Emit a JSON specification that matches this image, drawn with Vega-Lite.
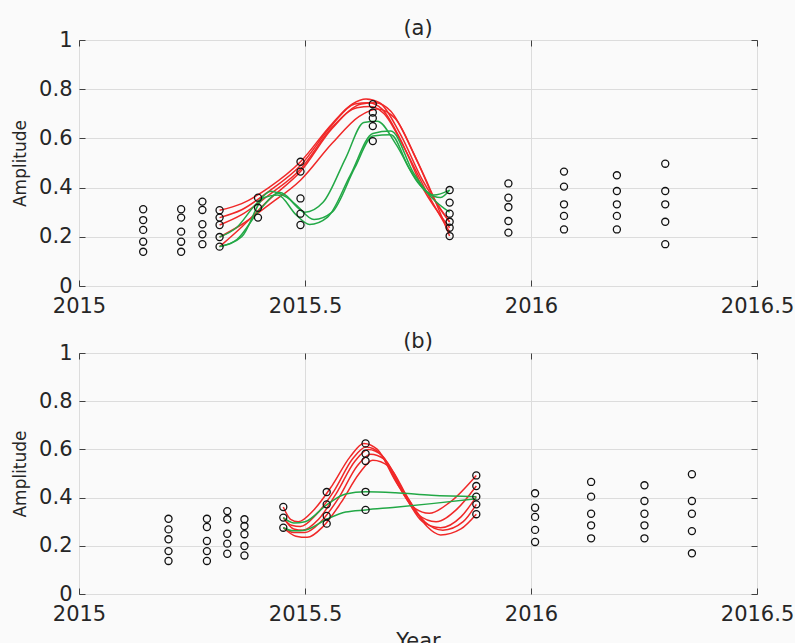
{
  "$schema": "https://vega.github.io/schema/vega-lite/v6.json",
  "background": "#fafafa",
  "padding": {"left": 11, "top": 17, "right": 0, "bottom": 0},
  "bounds": "flush",
  "spacing": 67,
  "config": {
    "font": "DejaVu Sans",
    "view": {"stroke": "#404040", "strokeWidth": 1},
    "axis": {
      "labelFont": "DejaVu Sans", "labelFontSize": 21, "labelColor": "#262626",
      "titleFont": "DejaVu Sans", "titleFontSize": 17, "titleFontWeight": "normal", "titleColor": "#262626",
      "gridColor": "#dcdcdc", "gridWidth": 1, "tickColor": "#404040", "tickSize": -6, "tickWidth": 1,
      "domain": false, "labelOverlap": false, "labelFlush": false
    },
    "title": {"font": "DejaVu Sans", "fontSize": 21, "fontWeight": "normal", "color": "#262626", "anchor": "middle"}
  },
  "datasets": {
    "pointsA": [
      {"year": 2015.142, "amp": 0.312}, {"year": 2015.142, "amp": 0.268}, {"year": 2015.142, "amp": 0.228}, {"year": 2015.142, "amp": 0.180}, {"year": 2015.142, "amp": 0.139},
      {"year": 2015.226, "amp": 0.312}, {"year": 2015.226, "amp": 0.278}, {"year": 2015.226, "amp": 0.221}, {"year": 2015.226, "amp": 0.180}, {"year": 2015.226, "amp": 0.139},
      {"year": 2015.273, "amp": 0.343}, {"year": 2015.273, "amp": 0.309}, {"year": 2015.273, "amp": 0.251}, {"year": 2015.273, "amp": 0.210}, {"year": 2015.273, "amp": 0.170},
      {"year": 2015.311, "amp": 0.308}, {"year": 2015.311, "amp": 0.278}, {"year": 2015.311, "amp": 0.248}, {"year": 2015.311, "amp": 0.199}, {"year": 2015.311, "amp": 0.160},
      {"year": 2015.396, "amp": 0.359}, {"year": 2015.396, "amp": 0.318}, {"year": 2015.396, "amp": 0.278},
      {"year": 2015.490, "amp": 0.505}, {"year": 2015.490, "amp": 0.465}, {"year": 2015.490, "amp": 0.356}, {"year": 2015.490, "amp": 0.294}, {"year": 2015.490, "amp": 0.248},
      {"year": 2015.650, "amp": 0.739}, {"year": 2015.650, "amp": 0.705}, {"year": 2015.650, "amp": 0.682}, {"year": 2015.650, "amp": 0.650}, {"year": 2015.650, "amp": 0.589},
      {"year": 2015.820, "amp": 0.390}, {"year": 2015.820, "amp": 0.339}, {"year": 2015.820, "amp": 0.294}, {"year": 2015.820, "amp": 0.261}, {"year": 2015.820, "amp": 0.237}, {"year": 2015.820, "amp": 0.203},
      {"year": 2015.950, "amp": 0.417}, {"year": 2015.950, "amp": 0.359}, {"year": 2015.950, "amp": 0.321}, {"year": 2015.950, "amp": 0.264}, {"year": 2015.950, "amp": 0.217},
      {"year": 2016.073, "amp": 0.465}, {"year": 2016.073, "amp": 0.404}, {"year": 2016.073, "amp": 0.332}, {"year": 2016.073, "amp": 0.285}, {"year": 2016.073, "amp": 0.230},
      {"year": 2016.190, "amp": 0.450}, {"year": 2016.190, "amp": 0.386}, {"year": 2016.190, "amp": 0.332}, {"year": 2016.190, "amp": 0.285}, {"year": 2016.190, "amp": 0.230},
      {"year": 2016.297, "amp": 0.497}, {"year": 2016.297, "amp": 0.386}, {"year": 2016.297, "amp": 0.332}, {"year": 2016.297, "amp": 0.261}, {"year": 2016.297, "amp": 0.170}
    ],
    "pointsB": [
      {"year": 2015.198, "amp": 0.312}, {"year": 2015.198, "amp": 0.268}, {"year": 2015.198, "amp": 0.227}, {"year": 2015.198, "amp": 0.178}, {"year": 2015.198, "amp": 0.137},
      {"year": 2015.283, "amp": 0.312}, {"year": 2015.283, "amp": 0.278}, {"year": 2015.283, "amp": 0.220}, {"year": 2015.283, "amp": 0.178}, {"year": 2015.283, "amp": 0.137},
      {"year": 2015.328, "amp": 0.344}, {"year": 2015.328, "amp": 0.310}, {"year": 2015.328, "amp": 0.250}, {"year": 2015.328, "amp": 0.209}, {"year": 2015.328, "amp": 0.167},
      {"year": 2015.366, "amp": 0.310}, {"year": 2015.366, "amp": 0.282}, {"year": 2015.366, "amp": 0.248}, {"year": 2015.366, "amp": 0.199}, {"year": 2015.366, "amp": 0.160},
      {"year": 2015.452, "amp": 0.361}, {"year": 2015.452, "amp": 0.317}, {"year": 2015.452, "amp": 0.275},
      {"year": 2015.548, "amp": 0.423}, {"year": 2015.548, "amp": 0.372}, {"year": 2015.548, "amp": 0.324}, {"year": 2015.548, "amp": 0.292},
      {"year": 2015.634, "amp": 0.625}, {"year": 2015.634, "amp": 0.582}, {"year": 2015.634, "amp": 0.552}, {"year": 2015.634, "amp": 0.424}, {"year": 2015.634, "amp": 0.349},
      {"year": 2015.879, "amp": 0.492}, {"year": 2015.879, "amp": 0.448}, {"year": 2015.879, "amp": 0.404}, {"year": 2015.879, "amp": 0.372}, {"year": 2015.879, "amp": 0.331},
      {"year": 2016.009, "amp": 0.418}, {"year": 2016.009, "amp": 0.358}, {"year": 2016.009, "amp": 0.320}, {"year": 2016.009, "amp": 0.266}, {"year": 2016.009, "amp": 0.216},
      {"year": 2016.133, "amp": 0.465}, {"year": 2016.133, "amp": 0.404}, {"year": 2016.133, "amp": 0.333}, {"year": 2016.133, "amp": 0.285}, {"year": 2016.133, "amp": 0.231},
      {"year": 2016.251, "amp": 0.451}, {"year": 2016.251, "amp": 0.386}, {"year": 2016.251, "amp": 0.333}, {"year": 2016.251, "amp": 0.285}, {"year": 2016.251, "amp": 0.231},
      {"year": 2016.356, "amp": 0.497}, {"year": 2016.356, "amp": 0.386}, {"year": 2016.356, "amp": 0.333}, {"year": 2016.356, "amp": 0.261}, {"year": 2016.356, "amp": 0.169}
    ],
    "curvesA": [
      {"id": "R1", "fit": "red", "year": 2015.311, "amp": 0.308}, {"id": "R1", "fit": "red", "year": 2015.36, "amp": 0.335}, {"id": "R1", "fit": "red", "year": 2015.42, "amp": 0.40}, {"id": "R1", "fit": "red", "year": 2015.49, "amp": 0.505}, {"id": "R1", "fit": "red", "year": 2015.56, "amp": 0.66}, {"id": "R1", "fit": "red", "year": 2015.605, "amp": 0.74}, {"id": "R1", "fit": "red", "year": 2015.635, "amp": 0.76}, {"id": "R1", "fit": "red", "year": 2015.665, "amp": 0.745}, {"id": "R1", "fit": "red", "year": 2015.71, "amp": 0.62}, {"id": "R1", "fit": "red", "year": 2015.76, "amp": 0.43}, {"id": "R1", "fit": "red", "year": 2015.82, "amp": 0.26},
      {"id": "R2", "fit": "red", "year": 2015.311, "amp": 0.278}, {"id": "R2", "fit": "red", "year": 2015.36, "amp": 0.31}, {"id": "R2", "fit": "red", "year": 2015.42, "amp": 0.385}, {"id": "R2", "fit": "red", "year": 2015.49, "amp": 0.49}, {"id": "R2", "fit": "red", "year": 2015.56, "amp": 0.655}, {"id": "R2", "fit": "red", "year": 2015.61, "amp": 0.74}, {"id": "R2", "fit": "red", "year": 2015.64, "amp": 0.745}, {"id": "R2", "fit": "red", "year": 2015.67, "amp": 0.72}, {"id": "R2", "fit": "red", "year": 2015.71, "amp": 0.60}, {"id": "R2", "fit": "red", "year": 2015.76, "amp": 0.40}, {"id": "R2", "fit": "red", "year": 2015.82, "amp": 0.237},
      {"id": "R3", "fit": "red", "year": 2015.311, "amp": 0.248}, {"id": "R3", "fit": "red", "year": 2015.36, "amp": 0.29}, {"id": "R3", "fit": "red", "year": 2015.42, "amp": 0.37}, {"id": "R3", "fit": "red", "year": 2015.49, "amp": 0.475}, {"id": "R3", "fit": "red", "year": 2015.56, "amp": 0.645}, {"id": "R3", "fit": "red", "year": 2015.615, "amp": 0.725}, {"id": "R3", "fit": "red", "year": 2015.645, "amp": 0.73}, {"id": "R3", "fit": "red", "year": 2015.675, "amp": 0.70}, {"id": "R3", "fit": "red", "year": 2015.72, "amp": 0.56}, {"id": "R3", "fit": "red", "year": 2015.77, "amp": 0.38}, {"id": "R3", "fit": "red", "year": 2015.82, "amp": 0.22},
      {"id": "R4", "fit": "red", "year": 2015.311, "amp": 0.16}, {"id": "R4", "fit": "red", "year": 2015.36, "amp": 0.24}, {"id": "R4", "fit": "red", "year": 2015.42, "amp": 0.35}, {"id": "R4", "fit": "red", "year": 2015.49, "amp": 0.465}, {"id": "R4", "fit": "red", "year": 2015.56, "amp": 0.64}, {"id": "R4", "fit": "red", "year": 2015.625, "amp": 0.74}, {"id": "R4", "fit": "red", "year": 2015.655, "amp": 0.745}, {"id": "R4", "fit": "red", "year": 2015.69, "amp": 0.71}, {"id": "R4", "fit": "red", "year": 2015.74, "amp": 0.54}, {"id": "R4", "fit": "red", "year": 2015.78, "amp": 0.38}, {"id": "R4", "fit": "red", "year": 2015.82, "amp": 0.203},
      {"id": "R5", "fit": "red", "year": 2015.311, "amp": 0.199}, {"id": "R5", "fit": "red", "year": 2015.36, "amp": 0.25}, {"id": "R5", "fit": "red", "year": 2015.42, "amp": 0.33}, {"id": "R5", "fit": "red", "year": 2015.49, "amp": 0.43}, {"id": "R5", "fit": "red", "year": 2015.56, "amp": 0.58}, {"id": "R5", "fit": "red", "year": 2015.62, "amp": 0.69}, {"id": "R5", "fit": "red", "year": 2015.66, "amp": 0.72}, {"id": "R5", "fit": "red", "year": 2015.70, "amp": 0.68}, {"id": "R5", "fit": "red", "year": 2015.75, "amp": 0.50}, {"id": "R5", "fit": "red", "year": 2015.79, "amp": 0.34}, {"id": "R5", "fit": "red", "year": 2015.82, "amp": 0.26},
      {"id": "G1", "fit": "green", "year": 2015.311, "amp": 0.199}, {"id": "G1", "fit": "green", "year": 2015.35, "amp": 0.24}, {"id": "G1", "fit": "green", "year": 2015.39, "amp": 0.33}, {"id": "G1", "fit": "green", "year": 2015.425, "amp": 0.385}, {"id": "G1", "fit": "green", "year": 2015.46, "amp": 0.36}, {"id": "G1", "fit": "green", "year": 2015.50, "amp": 0.30}, {"id": "G1", "fit": "green", "year": 2015.54, "amp": 0.34}, {"id": "G1", "fit": "green", "year": 2015.59, "amp": 0.52}, {"id": "G1", "fit": "green", "year": 2015.63, "amp": 0.665}, {"id": "G1", "fit": "green", "year": 2015.66, "amp": 0.67}, {"id": "G1", "fit": "green", "year": 2015.70, "amp": 0.58}, {"id": "G1", "fit": "green", "year": 2015.75, "amp": 0.42}, {"id": "G1", "fit": "green", "year": 2015.785, "amp": 0.37}, {"id": "G1", "fit": "green", "year": 2015.82, "amp": 0.39},
      {"id": "G2", "fit": "green", "year": 2015.311, "amp": 0.16}, {"id": "G2", "fit": "green", "year": 2015.35, "amp": 0.19}, {"id": "G2", "fit": "green", "year": 2015.40, "amp": 0.31}, {"id": "G2", "fit": "green", "year": 2015.445, "amp": 0.38}, {"id": "G2", "fit": "green", "year": 2015.48, "amp": 0.33}, {"id": "G2", "fit": "green", "year": 2015.52, "amp": 0.27}, {"id": "G2", "fit": "green", "year": 2015.56, "amp": 0.30}, {"id": "G2", "fit": "green", "year": 2015.61, "amp": 0.48}, {"id": "G2", "fit": "green", "year": 2015.65, "amp": 0.61}, {"id": "G2", "fit": "green", "year": 2015.69, "amp": 0.615}, {"id": "G2", "fit": "green", "year": 2015.73, "amp": 0.48}, {"id": "G2", "fit": "green", "year": 2015.77, "amp": 0.38}, {"id": "G2", "fit": "green", "year": 2015.80, "amp": 0.36}, {"id": "G2", "fit": "green", "year": 2015.82, "amp": 0.39},
      {"id": "G3", "fit": "green", "year": 2015.311, "amp": 0.16}, {"id": "G3", "fit": "green", "year": 2015.36, "amp": 0.20}, {"id": "G3", "fit": "green", "year": 2015.41, "amp": 0.36}, {"id": "G3", "fit": "green", "year": 2015.44, "amp": 0.37}, {"id": "G3", "fit": "green", "year": 2015.48, "amp": 0.29}, {"id": "G3", "fit": "green", "year": 2015.51, "amp": 0.25}, {"id": "G3", "fit": "green", "year": 2015.55, "amp": 0.28}, {"id": "G3", "fit": "green", "year": 2015.60, "amp": 0.45}, {"id": "G3", "fit": "green", "year": 2015.65, "amp": 0.62}, {"id": "G3", "fit": "green", "year": 2015.69, "amp": 0.63}, {"id": "G3", "fit": "green", "year": 2015.74, "amp": 0.46}, {"id": "G3", "fit": "green", "year": 2015.78, "amp": 0.36}, {"id": "G3", "fit": "green", "year": 2015.82, "amp": 0.30}
    ],
    "curvesB": [
      {"id": "R1", "fit": "red", "year": 2015.452, "amp": 0.361}, {"id": "R1", "fit": "red", "year": 2015.468, "amp": 0.31}, {"id": "R1", "fit": "red", "year": 2015.485, "amp": 0.30}, {"id": "R1", "fit": "red", "year": 2015.52, "amp": 0.35}, {"id": "R1", "fit": "red", "year": 2015.56, "amp": 0.45}, {"id": "R1", "fit": "red", "year": 2015.60, "amp": 0.57}, {"id": "R1", "fit": "red", "year": 2015.63, "amp": 0.625}, {"id": "R1", "fit": "red", "year": 2015.66, "amp": 0.60}, {"id": "R1", "fit": "red", "year": 2015.70, "amp": 0.47}, {"id": "R1", "fit": "red", "year": 2015.74, "amp": 0.36}, {"id": "R1", "fit": "red", "year": 2015.775, "amp": 0.335}, {"id": "R1", "fit": "red", "year": 2015.82, "amp": 0.38}, {"id": "R1", "fit": "red", "year": 2015.879, "amp": 0.492},
      {"id": "R2", "fit": "red", "year": 2015.452, "amp": 0.317}, {"id": "R2", "fit": "red", "year": 2015.47, "amp": 0.285}, {"id": "R2", "fit": "red", "year": 2015.49, "amp": 0.28}, {"id": "R2", "fit": "red", "year": 2015.525, "amp": 0.33}, {"id": "R2", "fit": "red", "year": 2015.565, "amp": 0.43}, {"id": "R2", "fit": "red", "year": 2015.605, "amp": 0.56}, {"id": "R2", "fit": "red", "year": 2015.635, "amp": 0.61}, {"id": "R2", "fit": "red", "year": 2015.665, "amp": 0.585}, {"id": "R2", "fit": "red", "year": 2015.71, "amp": 0.44}, {"id": "R2", "fit": "red", "year": 2015.75, "amp": 0.33}, {"id": "R2", "fit": "red", "year": 2015.79, "amp": 0.30}, {"id": "R2", "fit": "red", "year": 2015.835, "amp": 0.35}, {"id": "R2", "fit": "red", "year": 2015.879, "amp": 0.448},
      {"id": "R3", "fit": "red", "year": 2015.452, "amp": 0.317}, {"id": "R3", "fit": "red", "year": 2015.475, "amp": 0.27}, {"id": "R3", "fit": "red", "year": 2015.495, "amp": 0.265}, {"id": "R3", "fit": "red", "year": 2015.53, "amp": 0.31}, {"id": "R3", "fit": "red", "year": 2015.57, "amp": 0.42}, {"id": "R3", "fit": "red", "year": 2015.61, "amp": 0.55}, {"id": "R3", "fit": "red", "year": 2015.64, "amp": 0.60}, {"id": "R3", "fit": "red", "year": 2015.67, "amp": 0.575}, {"id": "R3", "fit": "red", "year": 2015.715, "amp": 0.43}, {"id": "R3", "fit": "red", "year": 2015.76, "amp": 0.30}, {"id": "R3", "fit": "red", "year": 2015.80, "amp": 0.275}, {"id": "R3", "fit": "red", "year": 2015.845, "amp": 0.32}, {"id": "R3", "fit": "red", "year": 2015.879, "amp": 0.404},
      {"id": "R4", "fit": "red", "year": 2015.452, "amp": 0.275}, {"id": "R4", "fit": "red", "year": 2015.475, "amp": 0.255}, {"id": "R4", "fit": "red", "year": 2015.50, "amp": 0.255}, {"id": "R4", "fit": "red", "year": 2015.535, "amp": 0.30}, {"id": "R4", "fit": "red", "year": 2015.575, "amp": 0.40}, {"id": "R4", "fit": "red", "year": 2015.615, "amp": 0.53}, {"id": "R4", "fit": "red", "year": 2015.645, "amp": 0.58}, {"id": "R4", "fit": "red", "year": 2015.675, "amp": 0.56}, {"id": "R4", "fit": "red", "year": 2015.72, "amp": 0.42}, {"id": "R4", "fit": "red", "year": 2015.765, "amp": 0.30}, {"id": "R4", "fit": "red", "year": 2015.805, "amp": 0.265}, {"id": "R4", "fit": "red", "year": 2015.85, "amp": 0.30}, {"id": "R4", "fit": "red", "year": 2015.879, "amp": 0.372},
      {"id": "R5", "fit": "red", "year": 2015.452, "amp": 0.275}, {"id": "R5", "fit": "red", "year": 2015.48, "amp": 0.24}, {"id": "R5", "fit": "red", "year": 2015.505, "amp": 0.235}, {"id": "R5", "fit": "red", "year": 2015.54, "amp": 0.28}, {"id": "R5", "fit": "red", "year": 2015.58, "amp": 0.38}, {"id": "R5", "fit": "red", "year": 2015.62, "amp": 0.50}, {"id": "R5", "fit": "red", "year": 2015.65, "amp": 0.555}, {"id": "R5", "fit": "red", "year": 2015.685, "amp": 0.53}, {"id": "R5", "fit": "red", "year": 2015.73, "amp": 0.39}, {"id": "R5", "fit": "red", "year": 2015.77, "amp": 0.28}, {"id": "R5", "fit": "red", "year": 2015.80, "amp": 0.245}, {"id": "R5", "fit": "red", "year": 2015.845, "amp": 0.27}, {"id": "R5", "fit": "red", "year": 2015.879, "amp": 0.331},
      {"id": "G1", "fit": "green", "year": 2015.452, "amp": 0.317}, {"id": "G1", "fit": "green", "year": 2015.475, "amp": 0.295}, {"id": "G1", "fit": "green", "year": 2015.50, "amp": 0.30}, {"id": "G1", "fit": "green", "year": 2015.548, "amp": 0.37}, {"id": "G1", "fit": "green", "year": 2015.59, "amp": 0.415}, {"id": "G1", "fit": "green", "year": 2015.634, "amp": 0.424}, {"id": "G1", "fit": "green", "year": 2015.70, "amp": 0.42}, {"id": "G1", "fit": "green", "year": 2015.78, "amp": 0.41}, {"id": "G1", "fit": "green", "year": 2015.879, "amp": 0.404},
      {"id": "G2", "fit": "green", "year": 2015.452, "amp": 0.275}, {"id": "G2", "fit": "green", "year": 2015.475, "amp": 0.262}, {"id": "G2", "fit": "green", "year": 2015.50, "amp": 0.265}, {"id": "G2", "fit": "green", "year": 2015.548, "amp": 0.31}, {"id": "G2", "fit": "green", "year": 2015.59, "amp": 0.34}, {"id": "G2", "fit": "green", "year": 2015.634, "amp": 0.349}, {"id": "G2", "fit": "green", "year": 2015.70, "amp": 0.36}, {"id": "G2", "fit": "green", "year": 2015.78, "amp": 0.375}, {"id": "G2", "fit": "green", "year": 2015.879, "amp": 0.395}
    ]
  },
  "vconcat": [
    {
      "width": 678, "height": 246,
      "title": {"text": "(a)", "offset": -10},
      "layer": [
        {
          "data": {"name": "curvesA"},
          "mark": {"type": "line", "interpolate": "monotone", "strokeWidth": 1.5},
          "encoding": {
            "x": {"field": "year", "type": "quantitative", "scale": {"domain": [2015, 2016.5], "nice": false, "zero": false},
                  "axis": {"orient": "bottom", "values": [2015, 2015.5, 2016, 2016.5], "format": "~g", "title": null, "labelPadding": 15}},
            "y": {"field": "amp", "type": "quantitative", "scale": {"domain": [0, 1], "nice": false},
                  "axis": {"orient": "left", "values": [0, 0.2, 0.4, 0.6, 0.8, 1], "format": "~g", "title": "Amplitude", "labelPadding": 13, "titlePadding": 9}},
            "color": {"field": "fit", "type": "nominal", "scale": {"domain": ["red", "green"], "range": ["#f02828", "#22a846"]}, "legend": null},
            "detail": {"field": "id", "type": "nominal"}
          }
        },
        {
          "data": {"name": "pointsA"},
          "mark": {"type": "point", "shape": "circle", "filled": false, "color": "#111111", "size": 50, "strokeWidth": 1.3, "opacity": 1},
          "encoding": {
            "x": {"field": "year", "type": "quantitative", "scale": {"domain": [2015, 2016.5], "nice": false, "zero": false},
                  "axis": {"orient": "top", "values": [2015, 2015.5, 2016, 2016.5], "labels": false, "grid": false, "title": null}},
            "y": {"field": "amp", "type": "quantitative", "scale": {"domain": [0, 1], "nice": false},
                  "axis": {"orient": "right", "values": [0, 0.2, 0.4, 0.6, 0.8, 1], "labels": false, "grid": false, "title": null}}
          }
        }
      ],
      "resolve": {"axis": {"x": "independent", "y": "independent"}}
    },
    {
      "width": 678, "height": 241,
      "title": {"text": "(b)", "offset": -10},
      "layer": [
        {
          "data": {"name": "curvesB"},
          "mark": {"type": "line", "interpolate": "monotone", "strokeWidth": 1.5},
          "encoding": {
            "x": {"field": "year", "type": "quantitative", "scale": {"domain": [2015, 2016.5], "nice": false, "zero": false},
                  "axis": {"orient": "bottom", "values": [2015, 2015.5, 2016, 2016.5], "format": "~g", "title": "Year", "titleFontSize": 21, "labelPadding": 15, "titlePadding": 6}},
            "y": {"field": "amp", "type": "quantitative", "scale": {"domain": [0, 1], "nice": false},
                  "axis": {"orient": "left", "values": [0, 0.2, 0.4, 0.6, 0.8, 1], "format": "~g", "title": "Amplitude", "labelPadding": 13, "titlePadding": 9}},
            "color": {"field": "fit", "type": "nominal", "scale": {"domain": ["red", "green"], "range": ["#f02828", "#22a846"]}, "legend": null},
            "detail": {"field": "id", "type": "nominal"}
          }
        },
        {
          "data": {"name": "pointsB"},
          "mark": {"type": "point", "shape": "circle", "filled": false, "color": "#111111", "size": 50, "strokeWidth": 1.3, "opacity": 1},
          "encoding": {
            "x": {"field": "year", "type": "quantitative", "scale": {"domain": [2015, 2016.5], "nice": false, "zero": false},
                  "axis": {"orient": "top", "values": [2015, 2015.5, 2016, 2016.5], "labels": false, "grid": false, "title": null}},
            "y": {"field": "amp", "type": "quantitative", "scale": {"domain": [0, 1], "nice": false},
                  "axis": {"orient": "right", "values": [0, 0.2, 0.4, 0.6, 0.8, 1], "labels": false, "grid": false, "title": null}}
          }
        }
      ],
      "resolve": {"axis": {"x": "independent", "y": "independent"}}
    }
  ]
}
